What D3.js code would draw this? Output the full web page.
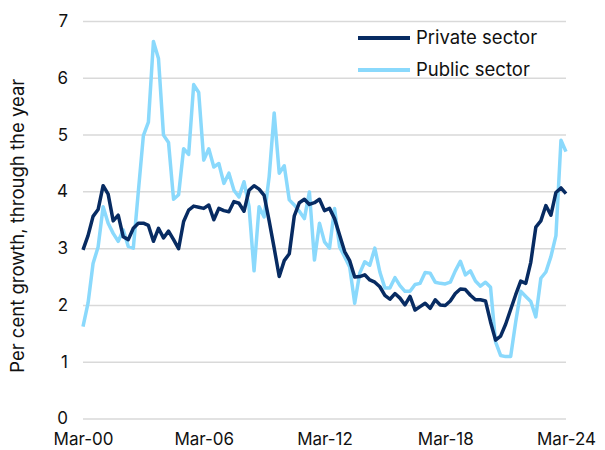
<!DOCTYPE html>
<html>
<head>
<meta charset="utf-8">
<script src="https://cdn.jsdelivr.net/npm/d3@7"></script>
<style>
  body { margin: 0; background: #fff; }
  svg text { font-family: Inter, "Liberation Sans", sans-serif; fill: #111; }
</style>
</head>
<body>
<div id="chart"></div>
<script>
// quarterly, Mar-00 .. Mar-24
const quarters = d3.range(2000, 2025).flatMap((y) =>
  ["Mar", "Jun", "Sep", "Dec"].map((m) => m + "-" + String(y).slice(2))
).slice(0, 97);

const privateSector = [
  2.97, 3.22, 3.56, 3.68, 4.1, 3.95, 3.48, 3.58, 3.2, 3.15, 3.35, 3.44,
  3.44, 3.4, 3.12, 3.35, 3.18, 3.3, 3.15, 2.99, 3.47, 3.67, 3.74, 3.72,
  3.7, 3.76, 3.5, 3.7, 3.66, 3.64, 3.82, 3.79, 3.65, 4.02, 4.1, 4.04,
  3.93, 3.48, 3.0, 2.5, 2.78, 2.9, 3.57, 3.8, 3.86, 3.77, 3.8, 3.86,
  3.66, 3.7, 3.52, 3.23, 2.94, 2.78, 2.49, 2.5, 2.53, 2.44, 2.4, 2.32,
  2.17, 2.1, 2.2, 2.12, 2.0, 2.15, 1.91, 1.97, 2.03, 1.94, 2.09, 2.0,
  1.99, 2.07, 2.2, 2.28, 2.27, 2.17, 2.09, 2.09, 2.07, 1.7, 1.38, 1.45,
  1.66, 1.92, 2.18, 2.42, 2.38, 2.75, 3.37, 3.48, 3.75, 3.58, 3.98, 4.06,
  3.96
];

const publicSector = [
  1.62, 2.03, 2.73, 3.02, 3.73, 3.44, 3.26, 3.12, 3.32, 3.03, 3.0, 4.0,
  4.98, 5.22, 6.64, 6.34, 4.99, 4.86, 3.86, 3.94, 4.75, 4.65, 5.88, 5.74,
  4.55, 4.75, 4.43, 4.49, 4.14, 4.32, 4.02, 3.9, 4.17, 3.73, 2.6, 3.73,
  3.55, 4.26, 5.38, 4.32, 4.45, 3.85, 3.76, 3.65, 3.52, 3.99, 2.79, 3.44,
  3.11, 3.0, 3.7, 3.02, 2.85, 2.67, 2.03, 2.56, 2.76, 2.7, 3.0, 2.58,
  2.3, 2.3, 2.48, 2.34, 2.24, 2.24, 2.36, 2.38, 2.57, 2.56, 2.4, 2.38,
  2.37, 2.4, 2.6, 2.77, 2.53, 2.6, 2.42, 2.33, 2.4, 2.31, 1.35, 1.11,
  1.09, 1.09, 1.7, 2.24, 2.15, 2.06, 1.79, 2.47, 2.58, 2.85, 3.22, 4.9,
  4.7
];

const xTickLabels = ["Mar-00", "Mar-06", "Mar-12", "Mar-18", "Mar-24"];
const yTicks = [0, 1, 2, 3, 4, 5, 6, 7];

const series = [
  { name: "Private sector", values: privateSector, color: "#072b62" },
  { name: "Public sector", values: publicSector, color: "#8ad9fc" }
];

const width = 605;
const height = 450;
const margin = { top: 21, right: 39, bottom: 31.5, left: 83 };

const svg = d3
  .select("#chart")
  .append("svg")
  .attr("width", width)
  .attr("height", height);

const x = d3
  .scalePoint()
  .domain(quarters)
  .range([margin.left, width - margin.right]);

const y = d3
  .scaleLinear()
  .domain([0, 7])
  .range([height - margin.bottom, margin.top]);

// gridlines + y labels
const yAxis = svg
  .append("g")
  .attr("transform", `translate(${margin.left},0)`)
  .call(
    d3
      .axisLeft(y)
      .tickValues(yTicks)
      .tickSize(-(width - margin.right - margin.left))
      .tickPadding(15)
      .tickFormat(d3.format("d"))
  );
yAxis.select(".domain").remove();
yAxis.selectAll(".tick line").attr("stroke", "#d9d9d9").attr("stroke-width", 1.5);
yAxis.selectAll(".tick text").style("font-size", "17px");

const xAxis = svg
  .append("g")
  .attr("transform", `translate(0,${height - margin.bottom})`)
  .call(d3.axisBottom(x).tickValues(xTickLabels).tickSize(0).tickPadding(14));
xAxis.select(".domain").remove();
xAxis.selectAll(".tick text").style("font-size", "17px");

// y axis title
svg
  .append("text")
  .attr("transform", `translate(24,${(margin.top + height - margin.bottom) / 2 + 6}) rotate(-90)`)
  .attr("text-anchor", "middle")
  .style("font-size", "18.5px")
  .text("Per cent growth, through the year");

const line = d3
  .line()
  .x((d, i) => x(quarters[i]))
  .y((d) => y(d));

// public first so private sits on top where they cross
series
  .slice()
  .reverse()
  .forEach((s) => {
    svg
      .append("path")
      .datum(s.values)
      .attr("fill", "none")
      .attr("stroke", s.color)
      .attr("stroke-width", 3.5)
      .attr("stroke-linejoin", "round")
      .attr("d", line);
  });

// legend
const legend = svg
  .selectAll(".legend")
  .data(series)
  .enter()
  .append("g")
  .attr("class", "legend")
  .attr("transform", (d, i) => `translate(358,${38 + i * 32})`);

legend
  .append("line")
  .attr("x1", 0)
  .attr("x2", 52)
  .attr("stroke", (d) => d.color)
  .attr("stroke-width", 4);

legend
  .append("text")
  .attr("x", 58)
  .attr("dy", "0.35em")
  .style("font-size", "18.5px")
  .text((d) => d.name);
</script>
</body>
</html>
